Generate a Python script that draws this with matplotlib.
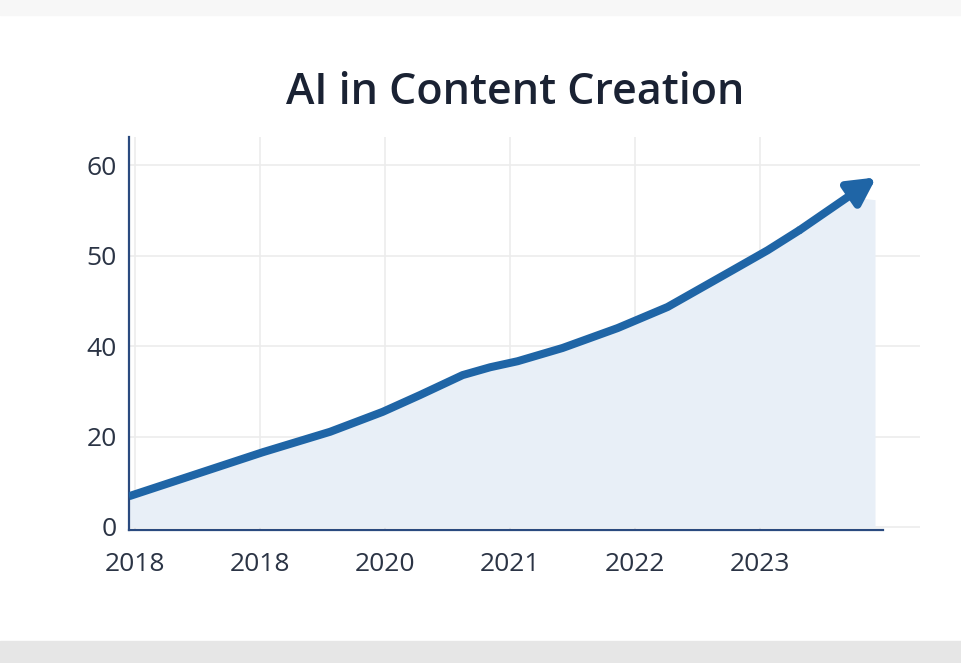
import matplotlib
matplotlib.use('Agg')
import matplotlib.pyplot as plt
from matplotlib.patches import Rectangle

# x position index (one step per labelled year) and value in axis units
x_pos = [-0.05, 1.02, 1.56, 1.98, 2.28, 2.62, 2.84, 3.06, 3.42, 3.86,
         4.26, 4.78, 5.06, 5.32]
y_val = [5.1, 12.4, 15.8, 19.1, 21.9, 25.2, 26.5, 27.5, 29.7, 33.0,
         36.5, 42.6, 45.9, 49.3]
tip = (5.93, 58.0)
# top edge of the shaded area under the arrow head
fill_end_x = [5.72, 5.92]
fill_end_y = [54.8, 54.3]

x_ticks = [0, 1, 2, 3, 4, 5]
x_labels = ['2018', '2018', '2020', '2021', '2022', '2023']
y_ticks = [0, 15, 30, 45, 60]
y_labels = ['0', '20', '40', '50', '60']

line_color = '#1f65a6'
fill_color = '#e8eff7'
spine_color = '#2a4a7f'
text_color = '#2b3445'

plt.rcParams['font.family'] = ['Open Sans', 'DejaVu Sans']

fig = plt.figure(figsize=(9.61, 6.63), dpi=100)
fig.patches.append(Rectangle((0, 1 - 15 / 663), 1, 15 / 663, transform=fig.transFigure,
                             color='#f7f7f7', zorder=0))
fig.patches.append(Rectangle((0, 0), 1, 22 / 663, transform=fig.transFigure,
                             color='#e6e6e6', zorder=0))

ax = fig.add_axes([129 / 961, 1 - 530 / 663, (920 - 129) / 961, (530 - 137) / 663])
ax.set_facecolor('none')

ax.fill_between(x_pos + fill_end_x, y_val + fill_end_y, 0, color=fill_color, lw=0, zorder=1)
ax.plot(x_pos, y_val, color=line_color, lw=5.8, solid_capstyle='butt',
        solid_joinstyle='round', zorder=3)
ax.annotate('', xy=tip, xytext=(x_pos[-1], y_val[-1]),
            arrowprops=dict(arrowstyle='-|>,head_length=0.85,head_width=0.45',
                            mutation_scale=19, color=line_color, lw=5.8,
                            shrinkA=0, shrinkB=0),
            zorder=4)

ax.set_xlim(-0.05, 6.28)
ax.set_ylim(-0.5, 64.7)
ax.set_xticks(x_ticks)
ax.set_xticklabels(x_labels)
ax.set_yticks(y_ticks)
ax.set_yticklabels(y_labels)
ax.tick_params(length=0, labelsize=19, colors=text_color)
ax.tick_params(axis='x', pad=16)
ax.tick_params(axis='y', pad=9)

ax.grid(True, color='#ececec', lw=1.2, zorder=0)
ax.set_axisbelow(True)
for side in ['top', 'right']:
    ax.spines[side].set_visible(False)
for side in ['left', 'bottom']:
    ax.spines[side].set_color(spine_color)
    ax.spines[side].set_linewidth(1.6)
ax.spines['bottom'].set_bounds(-0.05, 5.98)

fig.text(515 / 961, 1 - 93 / 663, 'AI in Content Creation', ha='center', va='center',
         fontsize=31, fontweight='semibold', color='#1a2233')

fig.savefig('out.png', dpi=100)
plt.close()
